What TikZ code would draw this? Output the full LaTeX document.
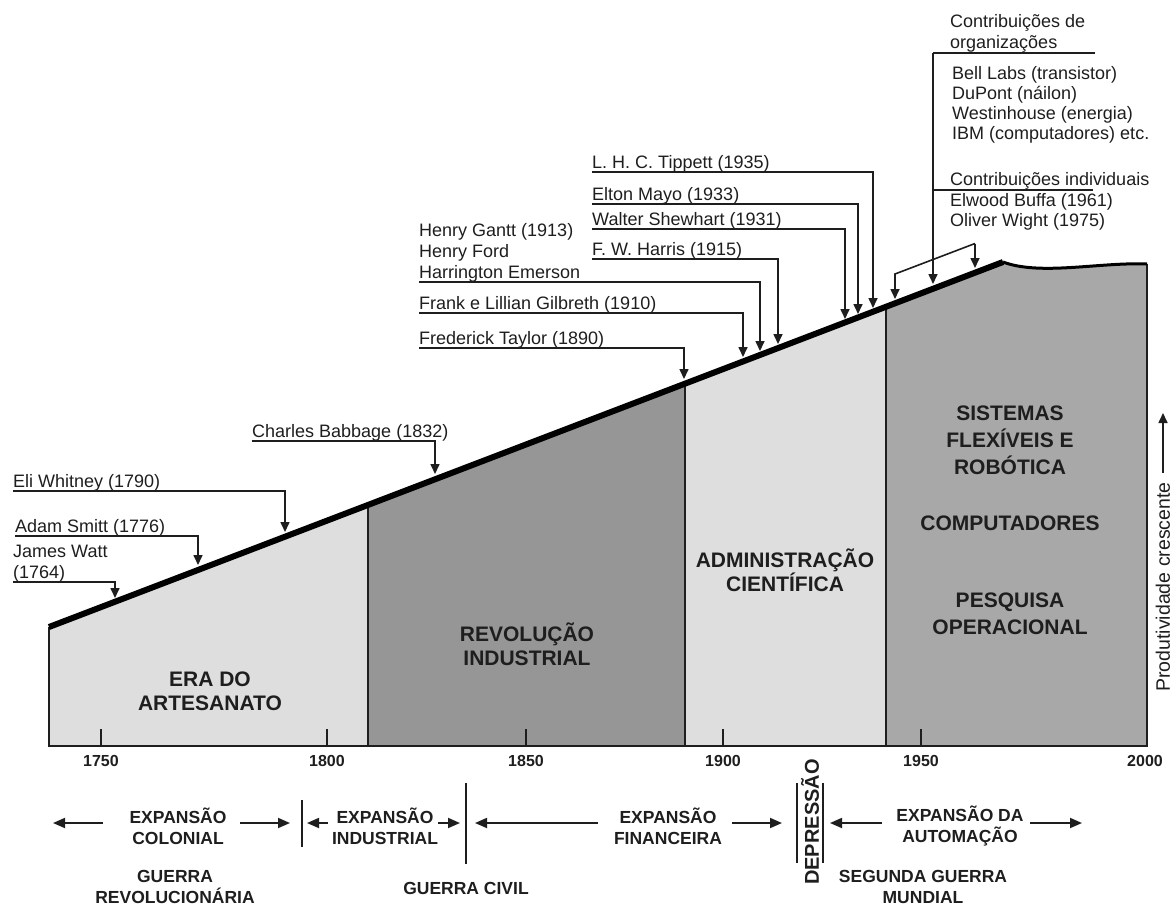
\documentclass[tikz,border=0pt]{standalone}
\usepackage{fontspec}
\setmainfont{Liberation Sans}
\usetikzlibrary{arrows.meta}

\definecolor{lightfill}{RGB}{222,222,222}
\definecolor{midfill}{RGB}{150,150,150}
\definecolor{autofill}{RGB}{168,168,168}
\definecolor{ink}{RGB}{30,30,30}

\begin{document}
\begin{tikzpicture}[x=1pt,y=-1pt,
  every node/.style={text=ink},
  lbl/.style={font=\fontsize{18}{21}\selectfont, inner sep=0pt, anchor=south west, align=left},
  lst/.style={font=\fontsize{18}{20}\selectfont, inner sep=0pt, anchor=north west, align=left},
  era/.style={font=\fontsize{21}{24}\selectfont\bfseries, align=center, inner sep=0pt},
  erawide/.style={font=\fontsize{21}{27}\selectfont\bfseries, align=center, inner sep=0pt},
  yr/.style={font=\fontsize{16}{18}\selectfont\bfseries, inner sep=0pt},
  bot/.style={font=\fontsize{17.5}{21}\selectfont\bfseries, align=center, inner sep=0pt},
  pointer/.style={draw=ink, line width=1.6pt, -{Triangle[length=10pt,width=9pt]}},
  plain/.style={draw=ink, line width=1.6pt},
  span/.style={draw=ink, line width=1.8pt, -{Triangle[length=12pt,width=10pt]}},
  edge/.style={draw=ink, line width=2pt},
  tick/.style={draw=ink, line width=2.5pt}
]
\useasboundingbox (0,0) rectangle (1173,907);

% corner points of the productivity profile
\coordinate (bl) at (49,746);
\coordinate (tl) at (49,627);
\coordinate (d1b) at (368,746);  \coordinate (d1t) at (368,505);
\coordinate (d2b) at (685,746);  \coordinate (d2t) at (685,383.7);
\coordinate (d3b) at (886,746);  \coordinate (d3t) at (886,306.8);
\coordinate (peak) at (1003,262);
\coordinate (tr) at (1147,264);
\coordinate (br) at (1147,746);

% filled eras
\fill[lightfill] (bl) -- (tl) -- (d1t) -- (d1b) -- cycle;
\fill[midfill] (d1b) -- (d1t) -- (d2t) -- (d2b) -- cycle;
\fill[lightfill] (d2b) -- (d2t) -- (d3t) -- (d3b) -- cycle;
\fill[autofill] (d3b) -- (d3t) -- (peak) .. controls (1040,276) and (1100,262) .. (tr) -- (br) -- cycle;

% outline, dividers and rising top edge
\draw[edge] (tl) -- (bl) -- (br) -- (tr);
\draw[edge] (d1b) -- (d1t);
\draw[edge] (d2b) -- (d2t);
\draw[edge] (d3b) -- (d3t);
\draw[draw=black, line width=3pt] (peak) .. controls (1040,276) and (1100,262) .. (tr);
\draw[draw=black, line width=6pt] (tl) -- (peak);

% time axis
\foreach \x/\yv in {101/1750, 327/1800, 526/1850, 723/1900, 921/1950}{
  \draw[tick] (\x,746) -- (\x,729);
  \node[yr] (y\yv) at (\x,761) {\yv};
}
\node[yr] (y2000) at (1145,761) {2000};

% era names
\node[era] (artes) at (210,691) {ERA DO\\ARTESANATO};
\node[era] (revol) at (527,644) {REVOLUÇÃO\\INDUSTRIAL};
\node[era] (adm) at (785,570) {ADMINISTRAÇÃO\\CIENTÍFICA};
\node[erawide] (sist) at (1010,440) {SISTEMAS\\FLEXÍVEIS E\\ROBÓTICA};
\node[era] (comp) at (1010,523) {COMPUTADORES};
\node[erawide] (pesq) at (1010,614) {PESQUISA\\OPERACIONAL};

% contributors and where they act on the curve
\node[lbl] (watt) at (13,582) {James Watt\\(1764)};
\coordinate (wattT) at (115,598);
\draw[pointer] (watt.south west) -| (wattT);

\node[lbl] (smith) at (15,536) {Adam Smitt (1776)};
\coordinate (smithT) at (198,565);
\draw[pointer] (smith.south west) -| (smithT);

\node[lbl] (whitney) at (13,491) {Eli Whitney (1790)};
\coordinate (whitneyT) at (285,532);
\draw[pointer] (whitney.south west) -| (whitneyT);

\node[lbl] (babbage) at (252,441) {Charles Babbage (1832)};
\coordinate (babbageT) at (435,474);
\draw[pointer] (babbage.south west) -| (babbageT);

\node[lbl] (taylor) at (419,348) {Frederick Taylor (1890)};
\coordinate (taylorT) at (684,379);
\draw[pointer] (taylor.south west) -| (taylorT);

\node[lbl] (gilbreth) at (419,313) {Frank e Lillian Gilbreth (1910)};
\coordinate (gilbrethT) at (743,357);
\draw[pointer] (gilbreth.south west) -| (gilbrethT);

\node[lbl] (gantt) at (419,282) {Henry Gantt (1913)\\Henry Ford\\Harrington Emerson};
\coordinate (ganttT) at (760,351);
\draw[pointer] (gantt.south west) -| (ganttT);

\node[lbl] (harris) at (592,259) {F. W. Harris (1915)};
\coordinate (harrisT) at (778,344);
\draw[pointer] (harris.south west) -| (harrisT);

\node[lbl] (shewhart) at (592,229) {Walter Shewhart (1931)};
\coordinate (shewhartT) at (845,319);
\draw[pointer] (shewhart.south west) -| (shewhartT);

\node[lbl] (mayo) at (592,204) {Elton Mayo (1933)};
\coordinate (mayoT) at (858,314);
\draw[pointer] (mayo.south west) -| (mayoT);

\node[lbl] (tippett) at (592,172) {L. H. C. Tippett (1935)};
\coordinate (tippettT) at (873,308);
\draw[pointer] (tippett.south west) -| (tippettT);

% organisations and individuals after 1940
\node[lbl] (org) at (950,53) {Contribuições de\\organizações};
\node[lst] (orglist) at (952,66) {Bell Labs (transistor)\\DuPont (náilon)\\Westinhouse (energia)\\IBM (computadores) etc.};
\node[lbl] (ind) at (950,190) {Contribuições individuais};
\node[lst] (indlist) at (950,193) {Elwood Buffa (1961)\\Oliver Wight (1975)};

\coordinate (orgC) at (933,53);   \coordinate (orgE) at (1095,53);
\coordinate (indC) at (933,190);  \coordinate (indE) at (1093,190);
\coordinate (midT) at (933,284);
\draw[plain] (orgC) -- (orgE);
\draw[plain] (indC) -- (indE);
\draw[pointer] (orgC) -- (midT);

\coordinate (brL) at (895,274);  \coordinate (brLT) at (895,299);
\coordinate (brR) at (975,243.5); \coordinate (brRT) at (975,268);
\draw[pointer] (brR) -- (brL) -- (brLT);
\draw[pointer] (brR) -- (brRT);

% productivity direction
\node[font=\fontsize{19.5}{20}\selectfont, rotate=90, inner sep=0pt] (prod) at (1163,587) {Produtividade crescente};
\coordinate (prodB) at (1163,473);
\coordinate (prodT) at (1163,413);
\draw[pointer] (prodB) -- (prodT);

% economic periods below the axis
\node[bot] (excol) at (178,826) {EXPANSÃO\\COLONIAL};
\node[bot] (guerrev) at (175,887) {GUERRA\\REVOLUCIONÁRIA};
\node[bot] (exind) at (385,826) {EXPANSÃO\\INDUSTRIAL};
\node[bot] (guciv) at (466,888) {GUERRA CIVIL};
\node[bot] (exfin) at (668,826) {EXPANSÃO\\FINANCEIRA};
\node[bot, font=\fontsize{20}{21}\selectfont\bfseries, rotate=90] (depr) at (810,822) {DEPRESSÃO};
\node[bot] (exaut) at (960,826) {EXPANSÃO DA\\AUTOMAÇÃO};
\node[bot] (segg) at (923,887) {SEGUNDA GUERRA\\MUNDIAL};

\coordinate (a1s) at (103,823); \coordinate (a1e) at (53,823);
\coordinate (a2s) at (240,823); \coordinate (a2e) at (290,823);
\coordinate (a3s) at (328,823); \coordinate (a3e) at (307,823);
\coordinate (a4s) at (438,823); \coordinate (a4e) at (460,823);
\coordinate (a5s) at (598,823); \coordinate (a5e) at (475,823);
\coordinate (a6s) at (732,823); \coordinate (a6e) at (782,823);
\coordinate (a7s) at (882,823); \coordinate (a7e) at (830,823);
\coordinate (a8s) at (1030,823); \coordinate (a8e) at (1082,823);
\foreach \i in {1,...,8}{ \draw[span] (a\i s) -- (a\i e); }

\coordinate (s1t) at (302,800); \coordinate (s1b) at (302,847);
\coordinate (s2t) at (466,783); \coordinate (s2b) at (466,864);
\coordinate (s3t) at (797,783); \coordinate (s3b) at (797,863);
\coordinate (s4t) at (823,783); \coordinate (s4b) at (823,863);
\foreach \i in {1,...,4}{ \draw[edge] (s\i t) -- (s\i b); }
\end{tikzpicture}
\end{document}
